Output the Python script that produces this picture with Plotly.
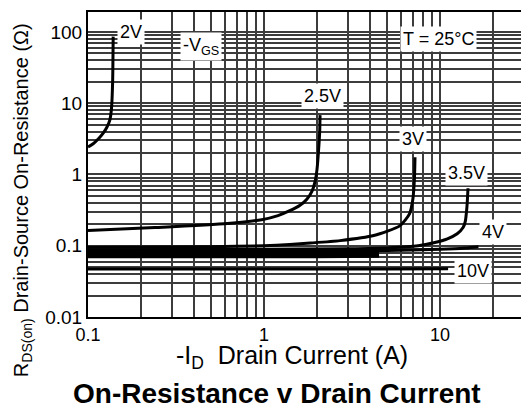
import numpy as np
import plotly.graph_objects as go

# ---- data (ID in A, RDS(on) in ohm) ----
v2_x = [0.1, 0.107, 0.115, 0.122, 0.128, 0.133, 0.136, 0.138, 0.139]
v2_y = [2.43, 2.7, 3.2, 3.8, 4.6, 5.8, 8.5, 20, 86]

v25_x = [0.1, 0.24, 0.62, 0.97, 1.2, 1.4, 1.6, 1.75, 1.87, 1.95, 2.0, 2.04, 2.07, 2.08]
v25_y = [0.163, 0.18, 0.205, 0.232, 0.265, 0.31, 0.37, 0.45, 0.58, 0.8, 1.2, 2.2, 4.0, 6.8]

v3_x = [0.1, 0.5, 1.0, 1.4, 1.83, 2.7, 4.2, 5.9, 6.7, 7.0, 7.15, 7.2]
v3_y = [0.095, 0.097, 0.1, 0.104, 0.109, 0.118, 0.139, 0.19, 0.28, 0.45, 0.9, 1.74]

v35_x = [0.1, 1, 3, 5.2, 7.5, 9.2, 11, 12.5, 13.5, 13.9, 14.2, 14.4]
v35_y = [0.088, 0.089, 0.091, 0.094, 0.1, 0.11, 0.125, 0.147, 0.18, 0.22, 0.35, 0.64]

v4_x = [0.1, 2, 5, 10, 14, 16.5]
v4_y = [0.083, 0.084, 0.086, 0.089, 0.093, 0.097]

v45_x = [0.1, 2, 4.5]
v45_y = [0.078, 0.078, 0.079]
v5_x = [0.1, 2, 4.5]
v5_y = [0.074, 0.074, 0.075]
v6_x = [0.1, 2, 4.5]
v6_y = [0.07, 0.07, 0.071]

v10_x = [0.1, 5, 11.1]
v10_y = [0.047, 0.047, 0.0475]

series = [
    (v2_x, v2_y), (v25_x, v25_y), (v3_x, v3_y), (v35_x, v35_y), (v4_x, v4_y),
    (v45_x, v45_y), (v5_x, v5_y), (v6_x, v6_y), (v10_x, v10_y),
]

# curve labels (text, ID, RDS)
curve_labels = [
    ("2V", 0.175, 100), ("2.5V", 2.14, 12.6), ("3V", 7.03, 3.15), ("3.5V", 14.2, 1.05),
    ("4V", 20.0, 0.156), ("10V", 15.4, 0.0443),
]
other_labels = [
    ("-V<sub>GS</sub>", 0.438, 62), ("T = 25°C", 9.75, 79.6),
]

x_tickvals = [0.1, 1, 10]
x_ticktext = ["0.1", "1", "10"]
x_minor = [m * d for d in (0.1, 1, 10) for m in range(2, 10)] + [20]
y_tickvals = [0.01, 0.1, 1, 10, 100]
y_ticktext = ["0.01", "0.1", "1", "10", "100"]
y_minor = [m * d for d in (0.01, 0.1, 1, 10, 100) for m in range(2, 10)]

FONT = "Liberation Sans, Arial, sans-serif"
GRID = "#3c3c3c"

fig = go.Figure()
for xs, ys in series:
    fig.add_trace(go.Scatter(x=xs, y=ys, mode="lines",
                             line=dict(color="black", width=3, shape="spline", smoothing=0.6),
                             showlegend=False, hoverinfo="skip"))

for txt, xv, yv in curve_labels + other_labels:
    fig.add_annotation(x=np.log10(xv), y=np.log10(yv), xref="x", yref="y", text=txt,
                       showarrow=False, bgcolor="white", borderpad=2,
                       font=dict(family=FONT, size=18, color="black"))

fig.add_annotation(x=0.472, y=-0.131, xref="paper", yref="paper",
                   text="-I<sub>D</sub>  Drain Current (A)", showarrow=False,
                   xanchor="center", yanchor="middle",
                   font=dict(family=FONT, size=25, color="black"))
fig.add_annotation(x=0.4365, y=-0.25, xref="paper", yref="paper",
                   text="<b>On-Resistance v Drain Current</b>", showarrow=False,
                   xanchor="center", yanchor="middle",
                   font=dict(family=FONT, size=28, color="black"))
fig.add_annotation(x=-0.152, y=0.3836, xref="paper", yref="paper", textangle=-90,
                   text="R<sub>DS(on)</sub> Drain-Source On-Resistance (Ω)", showarrow=False,
                   xanchor="center", yanchor="middle",
                   font=dict(family=FONT, size=20, color="black"))

fig.update_xaxes(type="log", range=[-1, np.log10(28.8)], tickvals=x_tickvals, ticktext=x_ticktext,
                 showgrid=True, gridcolor=GRID, gridwidth=1.8, zeroline=False,
                 minor=dict(tickvals=x_minor, showgrid=True, gridcolor=GRID, gridwidth=1.8, ticks=""),
                 showline=True, linecolor="black", linewidth=2, mirror=True, ticks="",
                 ticklabelstandoff=0,
                 tickfont=dict(family=FONT, size=18, color="black"))
fig.update_yaxes(type="log", range=[-2, 2.28], tickvals=y_tickvals, ticktext=y_ticktext,
                 showgrid=True, gridcolor=GRID, gridwidth=1.8, zeroline=False,
                 minor=dict(tickvals=y_minor, showgrid=True, gridcolor=GRID, gridwidth=1.8, ticks=""),
                 showline=True, linecolor="black", linewidth=2, mirror=False, ticks="",
                 tickfont=dict(family=FONT, size=19, color="black"))

fig.update_layout(width=521, height=406, margin=dict(l=88, r=0, t=12, b=89),
                  paper_bgcolor="white", plot_bgcolor="white", showlegend=False)

fig.write_html("out.html")
